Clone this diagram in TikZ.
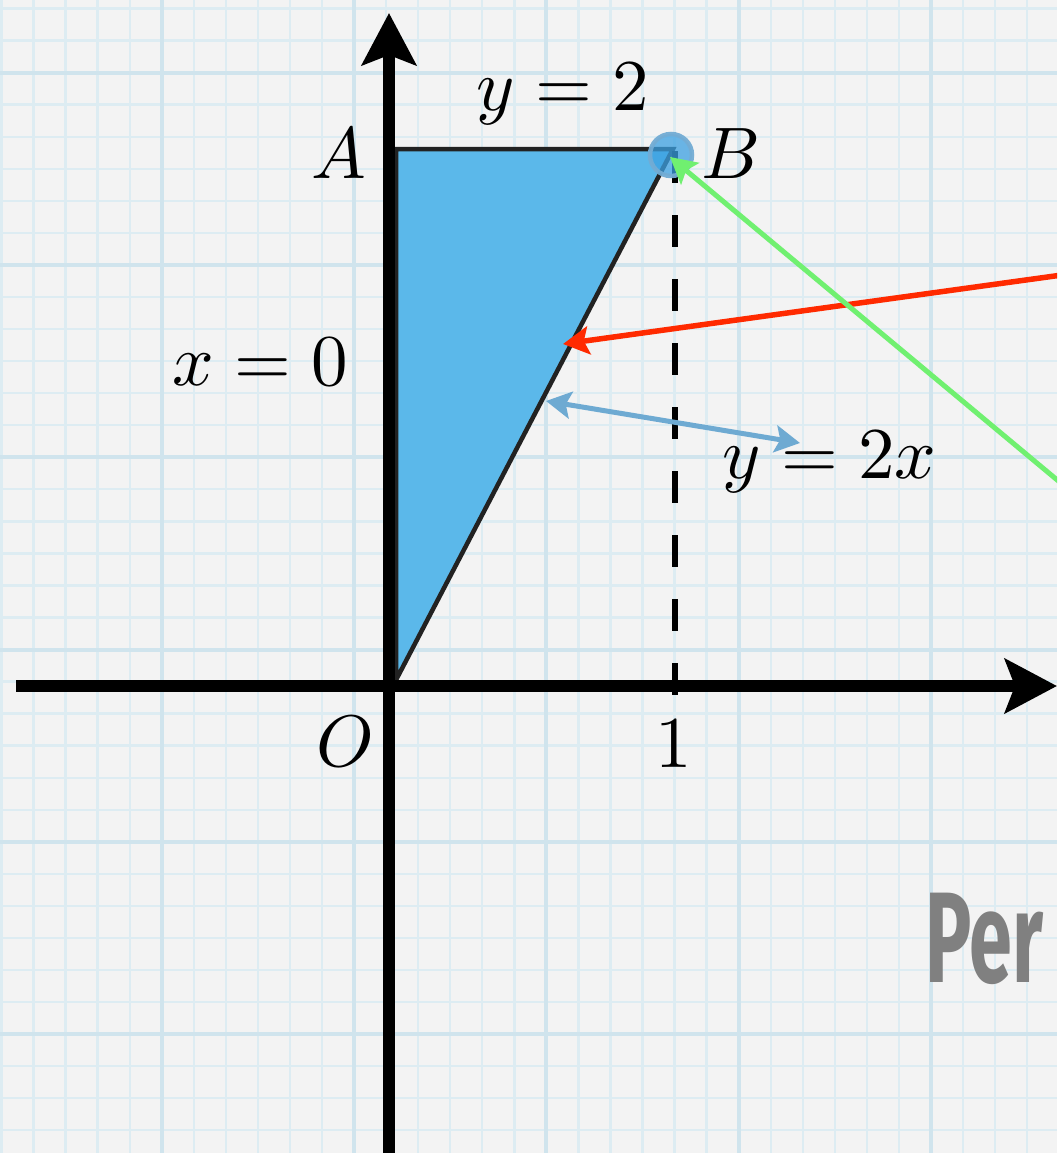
\documentclass[tikz,border=0pt]{standalone}
\usepackage{fontspec}
\newfontfamily\perfont{Fira Sans}
\usetikzlibrary{arrows.meta}
\definecolor{paper}{RGB}{243,243,243}
\definecolor{gridthin}{RGB}{221,236,242}
\definecolor{gridthick}{RGB}{208,228,237}
\definecolor{fillblue}{RGB}{91,184,234}
\definecolor{edgedark}{RGB}{34,34,34}
\definecolor{redarr}{RGB}{255,42,0}
\definecolor{greenarr}{RGB}{112,240,112}
\definecolor{bluearr}{RGB}{110,170,210}
\definecolor{ptfill}{RGB}{60,160,225}
\definecolor{ptring}{RGB}{115,172,212}
\definecolor{handgray}{RGB}{128,128,128}
\tikzset{
  thinline/.style={gridthin, line width=2.4pt},
  thickline/.style={gridthick, line width=4pt},
  axisline/.style={black, line width=12pt, -{Stealth[length=52pt,width=54pt,inset=10pt]}},
  mathlabel/.style={inner sep=0pt, scale=7.3, anchor=base west},
  pointer/.style={line width=5.5pt, -{Stealth[length=26pt,width=28pt,inset=5pt]}},
  dpointer/.style={line width=5pt, {Stealth[length=25pt,width=27pt,inset=5pt]}-{Stealth[length=25pt,width=27pt,inset=5pt]}},
}
\begin{document}
\begin{tikzpicture}[x=1pt,y=-1pt]
\useasboundingbox (0,0) rectangle (1057,1153);
\clip (0,0) rectangle (1057,1153);
\fill[paper] (0,0) rectangle (1057,1153);
% grid
\foreach \i in {0,...,33} \draw[thinline] ({1.5+32.05*\i},0) -- ({1.5+32.05*\i},1153);
\foreach \j in {0,...,36} \draw[thinline] (0,{8.5+32.05*\j}) -- (1057,{8.5+32.05*\j});
\foreach \i in {5,11,17,23,29} \draw[thickline] ({1.5+32.05*\i},0) -- ({1.5+32.05*\i},1153);
\foreach \j in {2,8,14,20,26,32} \draw[thickline] (0,{8.5+32.05*\j}) -- (1057,{8.5+32.05*\j});
% points
\coordinate (O) at (396,680);
\coordinate (A) at (396,149);
\coordinate (B) at (673,149);
% region
\filldraw[fill=fillblue, draw=edgedark, line width=4.5pt, line join=miter] (O) -- (A) -- (B) -- cycle;
% dashed
\coordinate (dtop) at (675,151);
\coordinate (dbot) at (675,695);
\draw[black, line width=5.5pt, dash pattern=on 32pt off 32pt] (dtop) -- (dbot);
% axes
\coordinate (xs) at (16,686);
\coordinate (xe) at (1057,686);
\coordinate (ys) at (389,1160);
\coordinate (ye) at (389,13);
\draw[axisline] (xs) -- (xe);
\draw[axisline] (ys) -- (ye);
% point B marker
\node (Bdot) [circle, minimum size=42pt, inner sep=0pt, fill=ptfill, fill opacity=0.75, draw=ptring, draw opacity=0.95, line width=4.5pt] at (671,155) {};
% arrows
\coordinate (rs) at (1062,275);
\coordinate (rt) at (563,344);
\draw[pointer, redarr] (rs) -- (rt);
\coordinate (gs) at (1062,484);
\coordinate (gt) at (670,157);
\draw[pointer, greenarr, line width=5pt] (gs) -- (gt);
\coordinate (bl) at (546,401);
\coordinate (br) at (800,443);
\draw[dpointer, bluearr] (bl) -- (br);
% labels
\node[mathlabel] (ly2) at (475,111) {$y=2$};
\node[mathlabel] (lx0) at (171,385) {$x=0$};
\node[mathlabel] (ly2x) at (721,478) {$y=2x$};
\node[mathlabel] (lA) at (310,178) {$A$};
\node[mathlabel] (lB) at (700,178) {$B$};
\node[mathlabel] (lO) at (315,766) {$O$};
\node[mathlabel] (l1) at (654,767) {$1$};
\node[inner sep=0pt, anchor=base west, xscale=0.6, text=handgray] (per) at (925,982) {\fontsize{129}{140}\selectfont\perfont\bfseries Per};
\end{tikzpicture}
\end{document}
